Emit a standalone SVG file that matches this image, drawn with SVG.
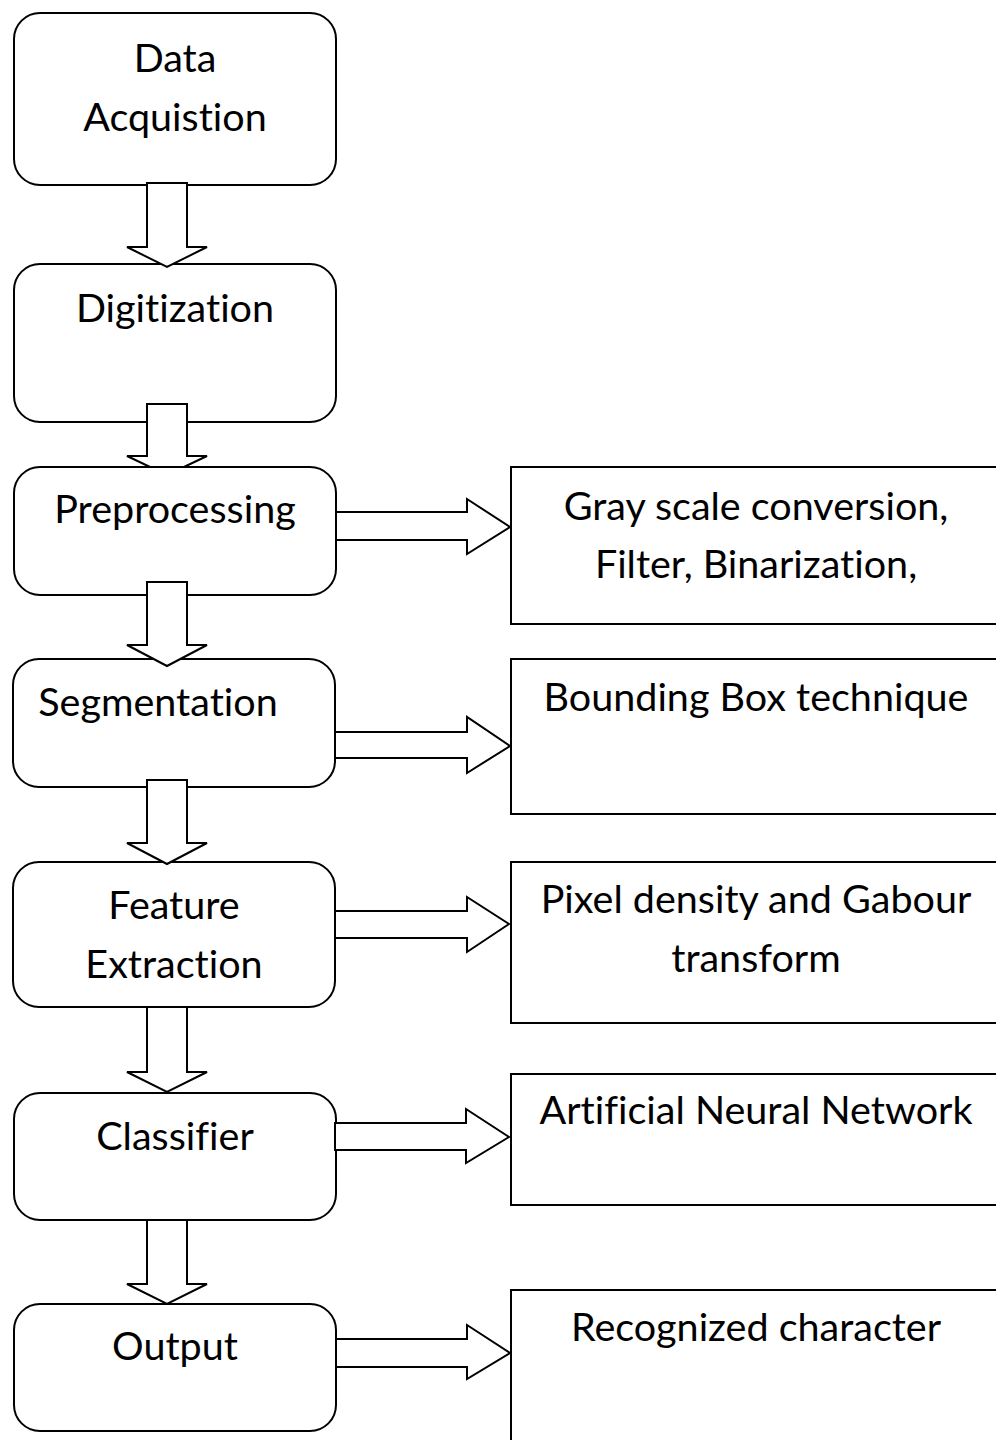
<svg xmlns="http://www.w3.org/2000/svg" width="996" height="1440" viewBox="0 0 996 1440">
<style>
.box{fill:#fff;stroke:#000;stroke-width:2}
.arr{fill:#fff;stroke:#000;stroke-width:2;stroke-linejoin:miter}
.t{font-family:Lato,"Liberation Sans",sans-serif;font-size:39.5px;fill:#000;text-anchor:middle;font-variant-ligatures:none}
</style>
<rect width="996" height="1440" fill="#fff"/>
<g id="n1"><rect class="box" x="14" y="13" width="322" height="172" rx="26"/><text class="t" x="175" y="72">Data</text><text class="t" x="175" y="131">Acquistion</text></g>
<g id="n2"><rect class="box" x="14" y="264" width="322" height="158" rx="26"/><text class="t" x="175" y="322">Digitization</text></g>
<g id="n3"><rect class="box" x="14" y="467" width="322" height="128" rx="26"/><text class="t" x="175" y="523">Preprocessing</text></g>
<g id="n4"><rect class="box" x="13" y="659" width="322" height="128" rx="26"/><text class="t" x="158" y="716">Segmentation</text></g>
<g id="n5"><rect class="box" x="13" y="862" width="322" height="145" rx="26"/><text class="t" x="174" y="919">Feature</text><text class="t" x="174" y="978">Extraction</text></g>
<g id="n6"><rect class="box" x="14" y="1093" width="322" height="127" rx="26"/><text class="t" x="175" y="1150">Classifier</text></g>
<g id="n7"><rect class="box" x="14" y="1304" width="322" height="127" rx="26"/><text class="t" x="175" y="1360">Output</text></g>
<g id="r1"><rect class="box" x="511" y="467" width="492" height="157"/><text class="t" x="756" y="520">Gray scale conversion,</text><text class="t" x="756" y="578">Filter, Binarization,</text></g>
<g id="r2"><rect class="box" x="511" y="659" width="492" height="155"/><text class="t" x="756" y="711">Bounding Box technique</text></g>
<g id="r3"><rect class="box" x="511" y="862" width="492" height="161"/><text class="t" x="756" y="913">Pixel density and Gabour</text><text class="t" x="756" y="972">transform</text></g>
<g id="r4"><rect class="box" x="511" y="1074" width="492" height="131"/><text class="t" x="756" y="1124">Artificial Neural Network</text></g>
<g id="r5"><rect class="box" x="511" y="1290" width="492" height="170"/><text class="t" x="756" y="1341">Recognized character</text></g>
<g id="connectors">
<polygon class="arr" points="147,183 187,183 187,247 207,247 167,267 127,247 147,247"/>
<polygon class="arr" points="147,404 187,404 187,456 207,456 184,467 150,467 127,456 147,456"/>
<polygon class="arr" points="147,582 187,582 187,645 207,645 167,666 127,645 147,645"/>
<polygon class="arr" points="147,780 187,780 187,843 207,843 167,864 127,843 147,843"/>
<polygon class="arr" points="147,1007 187,1007 187,1072 207,1072 167,1092 127,1072 147,1072"/>
<polygon class="arr" points="147,1220 187,1220 187,1284 207,1284 167,1304 127,1284 147,1284"/>
<path class="arr" d="M337,512 H467 V499 L510,527 L467,554 V540 H337"/>
<path class="arr" d="M336,732 H467 V717 L510,746 L467,773 V758 H336"/>
<path class="arr" d="M336,911 H467 V897 L509,924 L467,952 V938 H336"/>
<path class="arr" d="M335,1123 V1150 H466 V1163 L509,1137 L466,1109 V1123 Z"/>
<path class="arr" d="M337,1339 H467 V1325 L510,1353 L467,1379 V1367 H337"/>
</g>
</svg>
